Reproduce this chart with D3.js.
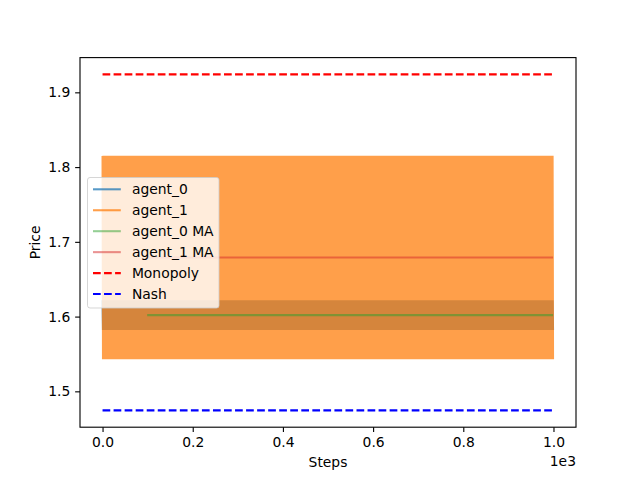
<!DOCTYPE html>
<html>
<head>
<meta charset="utf-8">
<script src="https://cdn.jsdelivr.net/npm/d3@7"></script>
<style>
  body { margin: 0; background: #fff; }
  svg { font-family: "DejaVu Sans", sans-serif; }
</style>
</head>
<body>
<svg id="chart" width="640" height="480"></svg>
<script>
// prices: each agent flips between two prices every step
var nSteps = 1000;
var agent0Cycle = [1.622, 1.582];
var agent1Cycle = [1.815, 1.543];
var maWindow = 100;
var monopolyPrice = 1.924;
var nashPrice = 1.4745;

var xTicks = [0, 200, 400, 600, 800, 1000];
var xTickLabels = ['0.0', '0.2', '0.4', '0.6', '0.8', '1.0'];
var yTicks = [1.5, 1.6, 1.7, 1.8, 1.9];

var legendNames = ['agent_0', 'agent_1', 'agent_0 MA', 'agent_1 MA', 'Monopoly', 'Nash'];

(function go() {
  var steps = d3.range(nSteps);
  var agent0 = steps.map(function (i) { return agent0Cycle[i % 2]; });
  var agent1 = steps.map(function (i) { return agent1Cycle[i % 2]; });

  function rolling(values, w) {
    var out = [];
    for (var i = w - 1; i < values.length; i++) {
      out.push([i, d3.mean(values.slice(i - w + 1, i + 1))]);
    }
    return out;
  }

  var pt = 100 / 72;
  var left = 80, right = 576, plotTop = 57.6, bottom = 427.2;

  var svg = d3.select('#chart');

  var x = d3.scaleLinear().domain([-50, 1049.95]).range([left, right]);
  var yLo = nashPrice, yHi = monopolyPrice, pad = (yHi - yLo) * 0.05;
  var y = d3.scaleLinear().domain([yLo - pad, yHi + pad]).range([bottom, plotTop]);

  var line = d3.line().x(function (d) { return x(d[0]); }).y(function (d) { return y(d[1]); });

  var series = [
    { name: 'agent_0', data: steps.map(function (i) { return [i, agent0[i]]; }), color: '#1f77b4', alpha: 0.75 },
    { name: 'agent_1', data: steps.map(function (i) { return [i, agent1[i]]; }), color: '#ff7f0e', alpha: 0.75 },
    { name: 'agent_0 MA', data: rolling(agent0, maWindow), color: '#2ca02c', alpha: 0.5 },
    { name: 'agent_1 MA', data: rolling(agent1, maWindow), color: '#d62728', alpha: 0.5 },
    { name: 'Monopoly', data: [[0, monopolyPrice], [nSteps - 1, monopolyPrice]], color: '#ff0000', alpha: 1, dash: true },
    { name: 'Nash', data: [[0, nashPrice], [nSteps - 1, nashPrice]], color: '#0000ff', alpha: 1, dash: true }
  ];

  var dash = (5.55 * pt) + ',' + (2.4 * pt);

  svg.append('g').selectAll('path.series')
    .data(series)
    .enter().append('path')
    .classed('series', true)
    .attr('d', function (d) { return line(d.data); })
    .attr('fill', 'none')
    .attr('stroke', function (d) { return d.color; })
    .attr('stroke-opacity', function (d) { return d.alpha; })
    .attr('stroke-width', 1.5 * pt)
    .attr('stroke-dasharray', function (d) { return d.dash ? dash : null; });

  // axes
  var xAxis = d3.axisBottom(x).tickValues(xTicks)
    .tickFormat(function (d, i) { return xTickLabels[i]; })
    .tickSize(3.5 * pt).tickPadding(3.5 * pt);
  var yAxis = d3.axisLeft(y).tickValues(yTicks)
    .tickFormat(d3.format('.1f'))
    .tickSize(3.5 * pt).tickPadding(3.5 * pt);

  function styleAxis(g) {
    g.select('.domain').remove();
    g.selectAll('.tick line').attr('stroke', '#000').attr('stroke-width', 0.8 * pt);
    g.selectAll('.tick text').attr('fill', '#000').style('font-size', (10 * pt) + 'px')
      .style('font-family', '"DejaVu Sans", sans-serif');
  }

  svg.append('g').attr('transform', 'translate(0,' + bottom + ')').call(xAxis).call(styleAxis);
  svg.append('g').attr('transform', 'translate(' + left + ',0)').call(yAxis).call(styleAxis);

  svg.append('rect')
    .attr('x', left).attr('y', plotTop)
    .attr('width', right - left).attr('height', bottom - plotTop)
    .attr('fill', 'none').attr('stroke', '#000').attr('stroke-width', 0.8 * pt);

  svg.append('text').attr('x', (left + right) / 2).attr('y', 467)
    .attr('text-anchor', 'middle').style('font-size', (10 * pt) + 'px').text('Steps');
  svg.append('text').attr('x', right).attr('y', 466)
    .attr('text-anchor', 'end').style('font-size', (10 * pt) + 'px').text('1e3');
  svg.append('text')
    .attr('transform', 'translate(40,' + (plotTop + bottom) / 2 + ') rotate(-90)')
    .attr('text-anchor', 'middle').style('font-size', (10 * pt) + 'px').text('Price');

  // legend
  var legend = svg.append('g').attr('transform', 'translate(87.5,177.5)');
  legend.append('rect')
    .attr('width', 131.5).attr('height', 130.5)
    .attr('rx', 2.5).attr('ry', 2.5)
    .attr('fill', '#fff').attr('fill-opacity', 0.8)
    .attr('stroke', '#cccccc').attr('stroke-opacity', 0.8).attr('stroke-width', 1);

  var item = legend.selectAll('g.item')
    .data(series.filter(function (d) { return legendNames.indexOf(d.name) >= 0; }))
    .enter().append('g').classed('item', true)
    .attr('transform', function (d, i) { return 'translate(0,' + (11.8 + i * 20.95) + ')'; });

  item.append('line')
    .attr('x1', 5.5).attr('x2', 5.5 + 27.8)
    .attr('stroke', function (d) { return d.color; })
    .attr('stroke-opacity', function (d) { return d.alpha; })
    .attr('stroke-width', 1.5 * pt)
    .attr('stroke-dasharray', function (d) { return d.dash ? dash : null; });

  item.append('text')
    .attr('x', 44.4).attr('dy', '0.35em')
    .style('font-size', (10 * pt) + 'px')
    .text(function (d) { return d.name; });
})();
</script>
</body>
</html>
